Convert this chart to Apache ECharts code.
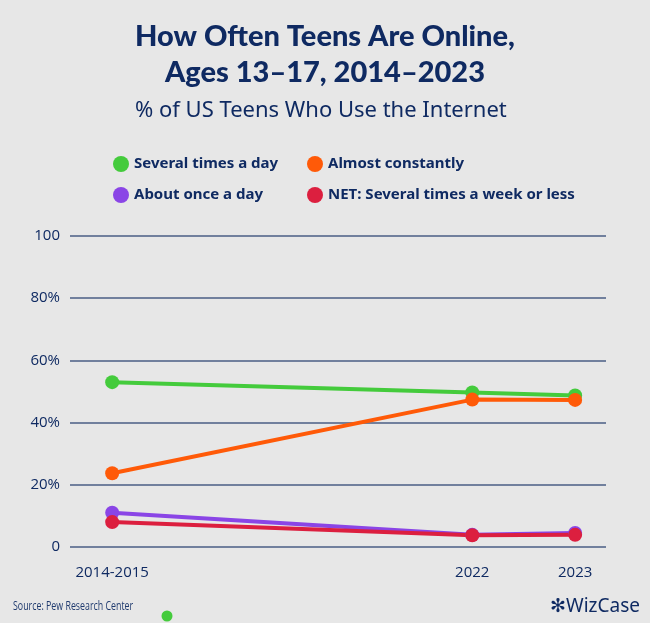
<!DOCTYPE html>
<html>
<head>
<meta charset="utf-8">
<script src="https://cdn.jsdelivr.net/npm/echarts@6/dist/echarts.min.js"></script>
<style>
html,body{margin:0;padding:0;background:#e7e7e7;}
#chart{width:650px;height:623px;}
</style>
</head>
<body>
<div id="chart"></div>
<script>
// x slots: survey labels placed on a slot scale (blank slots = gap years)
const xSlots = ['2014-2015', '', '', '', '', '', '', '2022', '', '2023'];
const xLabels = ['2014-2015', '2022', '2023'];

const seriesNames = ['Several times a day', 'About once a day', 'Almost constantly', 'NET: Several times a week or less'];
const severalTimesADay = [53, 49.7, 48.7];
const aboutOnceADay = [11, 3.9, 4.5];
const almostConstantly = [23.7, 47.4, 47.3];
const netSeveralTimesAWeek = [8, 3.8, 3.9];

const yTicks = [0, 20, 40, 60, 80, 100];

const colors = {
  'Several times a day': '#44cb3c',
  'About once a day': '#8a45e6',
  'Almost constantly': '#ff5a08',
  'NET: Several times a week or less': '#dc1f3f'
};
const navy = '#0f2a62';

function pts(vals) {
  return vals.map((v, i) => [xSlots.indexOf(xLabels[i]), v]);
}

const seriesData = {
  'Several times a day': severalTimesADay,
  'About once a day': aboutOnceADay,
  'Almost constantly': almostConstantly,
  'NET: Several times a week or less': netSeveralTimesAWeek
};

const chart = echarts.init(document.getElementById('chart'));
chart.setOption({
  backgroundColor: '#e7e7e7',
  animation: false,
  title: [
    {
      text: 'How Often Teens Are Online,\nAges 13–17, 2014–2023',
      left: 'center', top: 14,
      textStyle: {color: navy, fontSize: 29, fontWeight: 900, fontFamily: 'Lato', lineHeight: 36}
    },
    {
      text: '% of US Teens Who Use the Internet',
      left: 130, top: 95,
      textStyle: {color: navy, fontSize: 22, fontWeight: 'normal', fontFamily: 'Noto Sans'}
    }
  ],
  legend: [
    {
      data: ['Several times a day', 'About once a day'],
      orient: 'vertical', left: 108, top: 151, itemGap: 15,
      icon: 'circle', itemWidth: 16, itemHeight: 16,
      textStyle: {color: navy, fontSize: 15, fontWeight: 'bold', fontFamily: 'Noto Sans'}
    },
    {
      data: ['Almost constantly', 'NET: Several times a week or less'],
      orient: 'vertical', left: 302, top: 151, itemGap: 15,
      icon: 'circle', itemWidth: 16, itemHeight: 16,
      textStyle: {color: navy, fontSize: 15, fontWeight: 'bold', fontFamily: 'Noto Sans'}
    }
  ],
  grid: {left: 70, right: 44, top: 236, bottom: 76},
  xAxis: {
    type: 'value',
    min: -0.82, max: 9.6,
    axisLine: {show: false},
    axisTick: {show: false},
    splitLine: {show: false},
    axisLabel: {
      customValues: xLabels.map(l => xSlots.indexOf(l)),
      formatter: v => xSlots[Math.round(v)],
      color: navy, fontSize: 15, fontFamily: 'Open Sans', margin: 18
    }
  },
  yAxis: {
    type: 'value', min: 0, max: 100, interval: 20,
    axisLine: {show: false}, axisTick: {show: false},
    splitLine: {lineStyle: {color: '#71809d', width: 2}},
    axisLabel: {
      formatter: v => (v === 0 || v === 100) ? String(v) : v + '%',
      color: navy, fontSize: 15, fontFamily: 'Open Sans', margin: 10
    }
  },
  series: seriesNames.map(name => ({
    name: name,
    type: 'line',
    data: pts(seriesData[name]),
    symbol: 'circle', symbolSize: 14,
    lineStyle: {width: 4, color: colors[name]},
    itemStyle: {color: colors[name]}
  })),
  graphic: [
    {type: 'text', x: 13, y: 600, scaleX: 0.68,
     style: {text: 'Source: Pew Research Center', fill: '#1f3a6e', fontSize: 13, fontFamily: 'Open Sans, sans-serif'}},
    {type: 'circle', shape: {cx: 167, cy: 616, r: 5.5}, style: {fill: '#44cb3c'}},
    {type: 'text', right: 10, top: 597,
     style: {text: '✻WizCase', fill: navy, fontSize: 19, fontFamily: 'Noto Sans'}}
  ]
});
</script>
</body>
</html>
